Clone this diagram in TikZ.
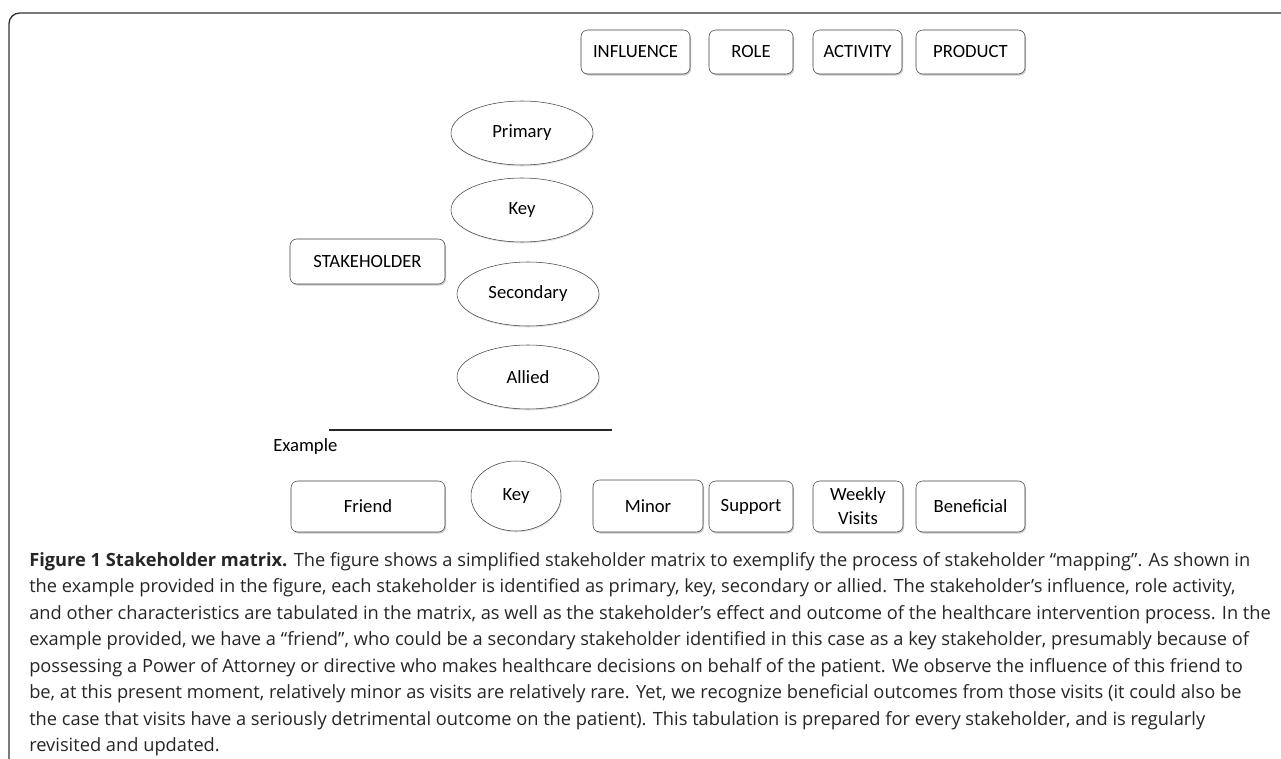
\documentclass[tikz,border=0pt]{standalone}
\usepackage{fontspec}
\setmainfont{Carlito}
\newfontfamily\capfont{Open Sans}
\usetikzlibrary{shapes.geometric, shadows, positioning}

\tikzset{
  box/.style={draw=black!75, fill=white, rounded corners=5pt, inner sep=0pt,
    minimum height=33pt, align=center, font=\fontsize{14}{18}\selectfont,
    drop shadow={shadow xshift=0.8pt, shadow yshift=-1.2pt, fill=black!35, opacity=0.6}},
  oval/.style={draw=black!75, fill=white, ellipse, inner sep=0pt,
    minimum width=106.5pt, minimum height=48pt, font=\fontsize{14}{18}\selectfont,
    drop shadow={shadow xshift=0.6pt, shadow yshift=-1pt, fill=black!25, opacity=0.5}}
}

\begin{document}
\begin{tikzpicture}[x=0.75pt, y=-0.75pt]
  \useasboundingbox (0,0) rectangle (1281,759);

  \coordinate (fl) at (9,759);
  \coordinate (fr) at (1281,13);
  \draw[line width=1pt, black!80, rounded corners=8pt] (fl) |- (fr);

  \node[box, minimum width=81.75pt] (inf) at (635.5,52) {INFLUENCE};
  \node[box, minimum width=63pt] (role) at (751,52) {ROLE};
  \node[box, minimum width=66.75pt] (act) at (857.5,52) {ACTIVITY};
  \node[box, minimum width=81.75pt] (prod) at (970.5,52) {PRODUCT};

  \node[box, minimum width=116.25pt, minimum height=33.75pt] (stk) at (367.5,261.5) {STAKEHOLDER};

  \node[oval] (prim) at (522,133) {Primary};
  \node[oval] (key) at (522,210) {Key};
  \node[oval] (sec) at (528,294) {Secondary};
  \node[oval] (alli) at (528,377) {Allied};

  \coordinate (ls) at (329,430);
  \coordinate (le) at (612,430);
  \draw[line width=2pt, black!85] (ls) -- (le);

  \node[anchor=west, font=\fontsize{14}{18}\selectfont, inner sep=0pt] (ex) at (273,447) {Example};

  \node[box, minimum width=115.5pt, minimum height=38.25pt] (friend) at (368,506.5) {Friend};
  \node[oval, minimum width=67.5pt, minimum height=52.5pt] (ekey) at (516,496) {Key};
  \node[box, minimum width=82.5pt, minimum height=39pt] (minor) at (648,506) {Minor};
  \node[box, minimum width=63pt, minimum height=38.25pt] (supp) at (751,506.5) {Support};
  \node[box, minimum width=67.5pt, minimum height=38.25pt] (week) at (858,506.5) {Weekly\\Visits};
  \node[box, minimum width=81.75pt, minimum height=38.25pt] (benef) at (970.5,506.5) {Beneficial};

  \node[anchor=north west, align=left, inner sep=0pt, text=black!85,
    font=\capfont\fontsize{13.7}{19.9}\selectfont] (cap) at (29,552) {%
    \textbf{Figure 1 Stakeholder matrix.} The figure shows a simplified stakeholder matrix to exemplify the process of stakeholder “mapping”. As shown in\\
    the example provided in the figure, each stakeholder is identified as primary, key, secondary or allied. The stakeholder’s influence, role activity,\\
    and other characteristics are tabulated in the matrix, as well as the stakeholder’s effect and outcome of the healthcare intervention process. In the\\
    example provided, we have a “friend”, who could be a secondary stakeholder identified in this case as a key stakeholder, presumably because of\\
    possessing a Power of Attorney or directive who makes healthcare decisions on behalf of the patient. We observe the influence of this friend to\\
    be, at this present moment, relatively minor as visits are relatively rare. Yet, we recognize beneficial outcomes from those visits (it could also be\\
    the case that visits have a seriously detrimental outcome on the patient). This tabulation is prepared for every stakeholder, and is regularly\\
    revisited and updated.};
\end{tikzpicture}
\end{document}
